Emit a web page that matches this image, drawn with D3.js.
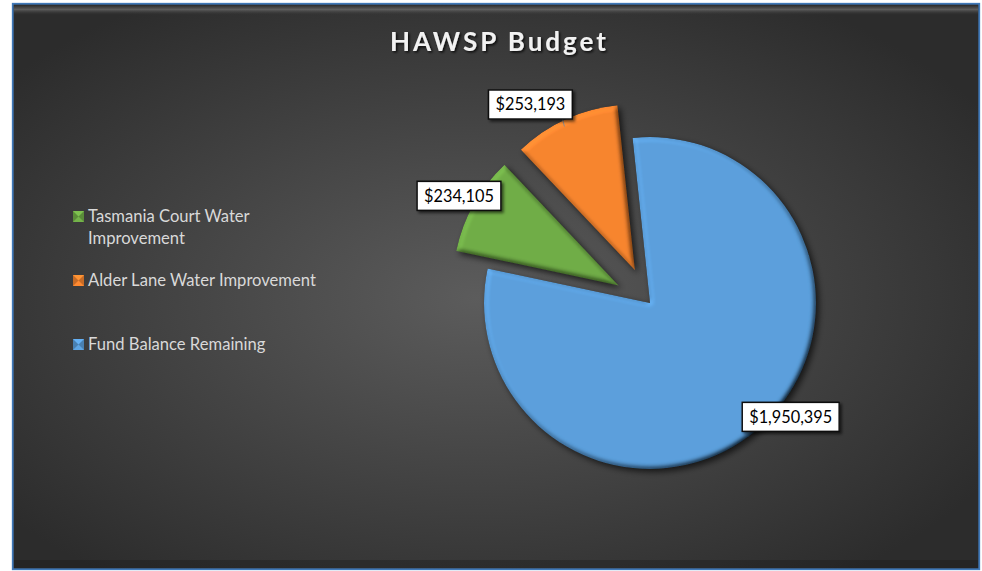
<!DOCTYPE html>
<html><head><meta charset="utf-8">
<script src="https://cdn.jsdelivr.net/npm/d3@7"></script>
<style>body{margin:0;background:#fff;}svg{display:block;}</style>
</head><body>
<svg id="c" width="982" height="571"></svg>
<script>
const categories = ["Tasmania Court Water Improvement", "Alder Lane Water Improvement", "Fund Balance Remaining"];
const legendLines = [["Tasmania Court Water", "Improvement"], ["Alder Lane Water Improvement"], ["Fund Balance Remaining"]];
const values = [234105, 253193, 1950395];
const colors = ["#70ad47", "#f7852f", "#5b9fdc"];
const exploded = [1, 1, 0];
const title = "HAWSP Budget";

const svg = d3.select("#c");
const defs = svg.append("defs");

const bg = defs.append("radialGradient").attr("id","bg").attr("cx","48%").attr("cy","52%").attr("r","62%");
bg.append("stop").attr("offset","0%").attr("stop-color","#5c5c5c");
bg.append("stop").attr("offset","100%").attr("stop-color","#2c2c2c");

const topHl = defs.append("linearGradient").attr("id","tophl").attr("x1",0).attr("y1",0).attr("x2",0).attr("y2",1);
topHl.append("stop").attr("offset","0%").attr("stop-color","#2a2a2a");
topHl.append("stop").attr("offset","45%").attr("stop-color","#7a7a7a");
topHl.append("stop").attr("offset","100%").attr("stop-color","#3a3a3a").attr("stop-opacity",0);

const f = defs.append("filter").attr("id","bevel").attr("x","-20%").attr("y","-20%").attr("width","140%").attr("height","140%");
f.append("feGaussianBlur").attr("in","SourceAlpha").attr("stdDeviation",2.5).attr("result","blur");
f.append("feDiffuseLighting").attr("in","blur").attr("surfaceScale",4).attr("diffuseConstant",1).attr("lighting-color","#fff").attr("result","light")
  .append("feDistantLight").attr("azimuth",225).attr("elevation",55);
f.append("feComposite").attr("in","SourceGraphic").attr("in2","light").attr("operator","arithmetic").attr("k1",1.22).attr("k2",0).attr("k3",0).attr("k4",0).attr("result","lit");
f.append("feComposite").attr("in","lit").attr("in2","SourceAlpha").attr("operator","in").attr("result","litIn");
f.append("feGaussianBlur").attr("in","SourceAlpha").attr("stdDeviation",3).attr("result","sblur");
f.append("feOffset").attr("in","sblur").attr("dx",3).attr("dy",3).attr("result","soff");
f.append("feFlood").attr("flood-color","#000").attr("flood-opacity",0.65).attr("result","sc");
f.append("feComposite").attr("in","sc").attr("in2","soff").attr("operator","in").attr("result","shadow");
const fm = f.append("feMerge");
fm.append("feMergeNode").attr("in","shadow");
fm.append("feMergeNode").attr("in","litIn");

const ts = defs.append("filter").attr("id","tshadow").attr("x","-10%").attr("y","-30%").attr("width","120%").attr("height","160%");
ts.append("feDropShadow").attr("dx",1.5).attr("dy",1.5).attr("stdDeviation",1.2).attr("flood-color","#000").attr("flood-opacity",0.8);

const lbs = defs.append("filter").attr("id","lshadow").attr("x","-20%").attr("y","-40%").attr("width","140%").attr("height","180%");
lbs.append("feDropShadow").attr("dx",2).attr("dy",2).attr("stdDeviation",1.5).attr("flood-color","#000").attr("flood-opacity",0.6);

// chart frame
svg.append("rect").attr("x",12).attr("y",3).attr("width",968).attr("height",567).attr("fill","url(#bg)");
svg.append("rect").attr("x",14).attr("y",5).attr("width",964).attr("height",10).attr("fill","url(#tophl)").attr("opacity",0.6);
svg.append("rect").attr("x",14).attr("y",560).attr("width",964).attr("height",8).attr("fill","#1a1a1a").attr("opacity",0.35);
svg.append("rect").attr("x",12.75).attr("y",3.75).attr("width",966.5).attr("height",565.5).attr("fill","none").attr("stroke","#3f78b8").attr("stroke-width",1.8);

// title
svg.append("text").attr("x",498).attr("y",51).attr("text-anchor","middle")
  .attr("font-family","Lato, 'Open Sans', sans-serif").attr("font-weight","bold").attr("font-size",26)
  .attr("textLength",216).attr("lengthAdjust","spacing")
  .attr("fill","#f2f2f2").attr("filter","url(#tshadow)").text(title);

// pie
const cx = 650, cy = 303, R = 166, explode = 36;
const startDeg = 282;
const pie = d3.pie().sort(null).value(d => d).startAngle(startDeg*Math.PI/180).endAngle((startDeg+360)*Math.PI/180);
const arcs = pie(values);
const arc = d3.arc().innerRadius(0).outerRadius(R);
const g = svg.append("g").attr("transform",`translate(${cx},${cy})`);

function offset(d,i){
  const m = (d.startAngle+d.endAngle)/2;
  const k = exploded[i]*explode;
  return [Math.sin(m)*k, -Math.cos(m)*k];
}
g.selectAll("path.slice").data(arcs).join("path").attr("class","slice")
  .attr("d",arc).attr("fill",(d,i)=>colors[i])
  .attr("transform",(d,i)=>{const o=offset(d,i);return `translate(${o[0]},${o[1]})`;})
  .attr("filter","url(#bevel)");

// data labels
const fmt = d3.format("$,");
const labelAngleShift = [0, -7.5, -9];
const labelRadius = [183, 196, 181];
const labels = g.selectAll("g.lbl").data(arcs).join("g").attr("class","lbl")
  .attr("transform",(d,i)=>{
    const o = offset(d,i);
    const m = (d.startAngle+d.endAngle)/2 + labelAngleShift[i]*Math.PI/180;
    return `translate(${o[0]+Math.sin(m)*labelRadius[i]},${o[1]-Math.cos(m)*labelRadius[i]})`;
  });
labels.each(function(d,i){
  const s = d3.select(this);
  if (i === 1) {
    // short leader line from label box toward slice
    s.append("line").attr("x1",32).attr("y1",14).attr("x2",34).attr("y2",22).attr("stroke","#8a8a8a").attr("stroke-width",1);
  }
  const t = s.append("text").attr("text-anchor","middle").attr("dy","0.35em")
    .attr("font-family","Lato, 'Open Sans', sans-serif").attr("font-size",16.3).attr("fill","#000").text(fmt(d.data));
  const w = t.node().getComputedTextLength();
  s.insert("rect","text").attr("x",-w/2-7).attr("y",-14.5).attr("width",w+14).attr("height",29)
    .attr("fill","#fff").attr("stroke","#111").attr("stroke-width",1.5).attr("filter","url(#lshadow)");
});

// legend
const legend = svg.append("g").attr("transform","translate(73,0)");
const legendY = [216, 280, 344];
legendLines.forEach((lines,i)=>{
  const y = legendY[i];
  const c = d3.color(colors[i]);
  const gm = legend.append("g").attr("transform",`translate(0,${y-5})`);
  gm.append("rect").attr("width",11).attr("height",11).attr("fill",c.darker(0.6));
  gm.append("path").attr("d","M0,0L11,0L5.5,5.5Z").attr("fill",c.brighter(0.3));
  gm.append("path").attr("d","M0,11L11,11L5.5,5.5Z").attr("fill",c.brighter(0.1));
  lines.forEach((ln,j)=>{
    legend.append("text").attr("x",15).attr("y",y+6+j*21.5)
      .attr("font-family","Lato, 'Open Sans', sans-serif").attr("font-size",16.6).attr("fill","#d9d9d9").text(ln);
  });
});
</script>
</body></html>
